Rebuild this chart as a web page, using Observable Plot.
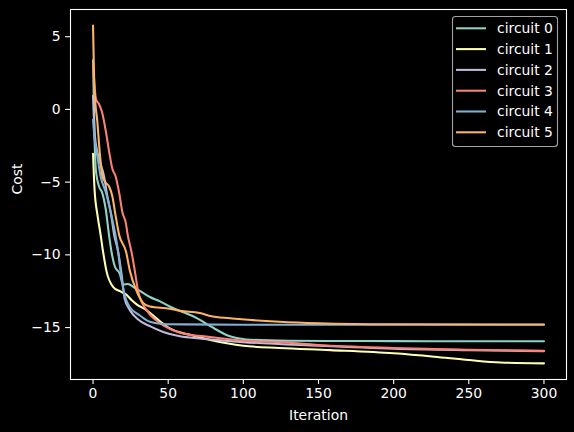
<!DOCTYPE html>
<html><head><meta charset="utf-8">
<script src="https://cdn.jsdelivr.net/npm/d3@7"></script>
<script src="https://cdn.jsdelivr.net/npm/@observablehq/plot@0.6"></script>
<style>
html,body{margin:0;padding:0;background:#000;}
#wrap{position:relative;width:574px;height:432px;background:#000;}
#legend{position:absolute;left:0;top:0;pointer-events:none;}
</style>
</head><body>
<div id="wrap"></div>
<script>
const seriesNames = ["circuit 0", "circuit 1", "circuit 2", "circuit 3", "circuit 4", "circuit 5"];
const palette = ["#8dd3c7", "#feffb3", "#bfbbd9", "#fa8174", "#81b1d2", "#fdb462"];

const c0_iter = [0, 1, 2, 4, 6, 8.5, 10.7, 12.3, 14.5, 17.8, 20, 23.3, 26.7, 33, 37.8, 44.5, 51, 57.8, 69, 78, 91, 102, 130, 160, 200, 250, 300];
const c0_cost = [3.39, -2.0, -4.3, -5.3, -5.7, -6.9, -8.7, -9.8, -10.8, -11.3, -12.05, -12.0, -12.2, -12.6, -12.9, -13.2, -13.55, -13.85, -14.35, -14.9, -15.6, -15.82, -15.9, -15.92, -15.93, -15.94, -15.94];

const c1_iter = [0, 1, 3, 5, 6.7, 8.9, 13.3, 17.8, 22.3, 25.6, 29, 35.6, 42, 51, 64.5, 78, 90, 100, 124, 158, 200, 227, 250, 271, 300];
const c1_cost = [-3.05, -5.5, -7.3, -8.6, -9.8, -11.1, -12.2, -12.5, -12.75, -13.1, -13.4, -13.8, -14.35, -15.05, -15.5, -15.85, -16.1, -16.25, -16.4, -16.55, -16.77, -17.0, -17.23, -17.4, -17.46];

const c2_iter = [0, 1, 3, 4, 7.3, 9.6, 11.8, 14, 16.7, 19, 21, 24.5, 30, 37.8, 46.7, 57.8, 71, 85, 100, 150, 200, 250, 300];
const c2_cost = [0.93, -1.5, -3.0, -3.4, -4.6, -6.0, -7.1, -8.6, -9.8, -11.35, -13.0, -13.8, -14.45, -14.9, -15.3, -15.6, -15.75, -15.88, -16.0, -16.25, -16.45, -16.55, -16.62];

const c3_iter = [0, 2, 4, 6, 8.5, 10.7, 12.9, 15, 17.3, 19.6, 21.8, 23, 25.6, 27.8, 30, 35.6, 42, 46.7, 57.8, 78, 100, 124, 150, 200, 250, 300];
const c3_cost = [3.1, 0.7, 0.36, -0.2, -1.5, -2.9, -4.1, -4.6, -5.7, -7.1, -7.8, -8.6, -9.8, -11.1, -12.5, -13.8, -14.5, -14.85, -15.35, -15.65, -15.9, -16.0, -16.2, -16.4, -16.52, -16.6];

const c4_iter = [0, 1, 3, 5, 8.5, 11.8, 15, 16.7, 18.3, 20, 22, 24.5, 31, 37.8, 46.7, 60, 100, 200, 300];
const c4_cost = [-0.72, -2.0, -3.3, -4.6, -5.7, -7.1, -8.7, -9.8, -11.1, -12.3, -13.1, -13.6, -14.15, -14.6, -14.75, -14.78, -14.8, -14.8, -14.8];

const c5_iter = [0, 1, 3, 4, 5, 6.2, 8.5, 10.7, 12.9, 15, 17.3, 22, 24.5, 29, 33.3, 37.8, 51, 58, 71, 78, 91, 124, 150, 200, 300];
const c5_cost = [5.76, 1.3, -1.0, -2.4, -3.55, -4.6, -5.05, -5.3, -6.0, -7.3, -8.6, -9.8, -11.1, -12.5, -13.3, -13.55, -13.7, -13.85, -14.0, -14.2, -14.36, -14.6, -14.7, -14.77, -14.79];

const xTicks = [0, 50, 100, 150, 200, 250, 300];
const yTicks = [-15, -10, -5, 0, 5];

const iters = [c0_iter, c1_iter, c2_iter, c3_iter, c4_iter, c5_iter];
const costs = [c0_cost, c1_cost, c2_cost, c3_cost, c4_cost, c5_cost];
const rows = [];
seriesNames.forEach((name, i) => {
  iters[i].forEach((it, j) => rows.push({series: name, iteration: it, cost: costs[i][j]}));
});

const FS = 13.9;
const chart = Plot.plot({
  width: 574,
  height: 432,
  marginLeft: 70,
  marginRight: 8,
  marginTop: 9,
  marginBottom: 53,
  style: {background: "#000", color: "#fff", fontFamily: "DejaVu Sans", fontSize: FS + "px"},
  x: {domain: [-15, 315]},
  y: {domain: [-18.57, 6.87]},
  color: {domain: seriesNames, range: palette},
  marks: [
    Plot.line(rows, {x: "iteration", y: "cost", z: "series", stroke: "series", strokeWidth: 2.08, curve: "monotone-x"}),
    Plot.frame({stroke: "#fff", strokeWidth: 1.1}),
    Plot.axisX({ticks: xTicks, tickSize: 4.9, tickPadding: 4, label: null, stroke: "#fff", strokeWidth: 1.1, fontSize: FS, fill: "#fff"}),
    Plot.axisY({ticks: yTicks, tickSize: 4.9, tickPadding: 4.9, label: null, stroke: "#fff", strokeWidth: 1.1, fontSize: FS, fill: "#fff"}),
    Plot.text(["Iteration"], {frameAnchor: "bottom", dy: 36, lineAnchor: "middle", fill: "#fff", fontSize: FS}),
    Plot.text(["Cost"], {frameAnchor: "left", dx: -53, rotate: -90, lineAnchor: "middle", fill: "#fff", fontSize: FS})
  ]
});
const wrap = document.getElementById("wrap");
wrap.appendChild(chart);

// legend overlay
const lg = d3.select(wrap).append("svg").attr("id", "legend").attr("width", 574).attr("height", 432);
lg.append("rect").attr("x", 452.5).attr("y", 16.5).attr("width", 105).attr("height", 130).attr("rx", 3)
  .attr("fill", "#000").attr("fill-opacity", 0.8).attr("stroke", "#ccc").attr("stroke-opacity", 0.8).attr("stroke-width", 1.1);
seriesNames.forEach((name, i) => {
  const cy = 28.3 + i * 20.8;
  lg.append("line").attr("x1", 456).attr("x2", 486).attr("y1", cy).attr("y2", cy)
    .attr("stroke", palette[i]).attr("stroke-width", 2.08);
  lg.append("text").attr("x", 497).attr("y", cy).attr("dy", "0.35em")
    .attr("fill", "#fff").attr("font-family", "DejaVu Sans").attr("font-size", FS).text(name);
});
</script>
</body></html>
